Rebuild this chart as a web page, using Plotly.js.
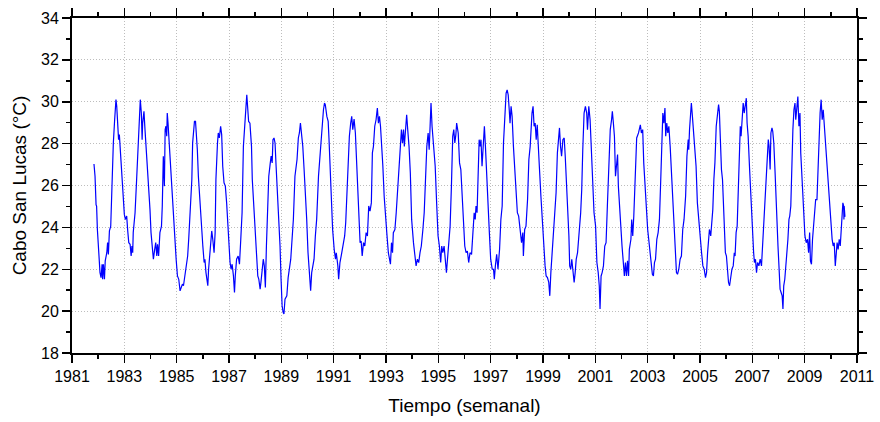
<!DOCTYPE html>
<html>
<head>
<meta charset="utf-8">
<script src="https://cdn.plot.ly/plotly-3.0.1.min.js"></script>
<style>html,body{margin:0;padding:0;background:#fff;}#chart{width:880px;height:422px;}</style>
</head>
<body>
<div id="chart"></div>
<script>
// Weekly SST at Cabo San Lucas (decimal years, °C)
const anios1982_1986 = [1981.84,1981.88,1981.92,1981.94,1981.97,1982.02,1982.07,1982.11,1982.15,1982.17,
1982.20,1982.24,1982.27,1982.33,1982.36,1982.39,1982.43,1982.48,1982.52,1982.58,
1982.63,1982.68,1982.71,1982.75,1982.78,1982.81,1982.86,1982.92,1982.96,1983.00,
1983.04,1983.09,1983.13,1983.17,1983.22,1983.26,1983.29,1983.32,1983.34,1983.41,
1983.47,1983.54,1983.57,1983.61,1983.65,1983.68,1983.70,1983.75,1983.79,1983.85,
1983.92,1983.98,1984.02,1984.06,1984.11,1984.16,1984.20,1984.24,1984.27,1984.31,
1984.36,1984.42,1984.45,1984.49,1984.53,1984.56,1984.59,1984.62,1984.64,1984.67,
1984.70,1984.72,1984.77,1984.82,1984.87,1984.92,1984.98,1985.03,1985.08,1985.13,
1985.17,1985.22,1985.26,1985.29,1985.33,1985.38,1985.42,1985.46,1985.51,1985.58,
1985.61,1985.64,1985.68,1985.72,1985.77,1985.79,1985.83,1985.89,1985.94,1986.00,
1986.05,1986.08,1986.12,1986.16,1986.19,1986.22,1986.26];
const temp1982_1986 = [27.03,26.44,25.08,25.02,23.90,22.56,21.84,21.60,22.24,21.52,
22.24,21.52,22.40,22.79,23.27,22.71,23.83,24.06,25.97,28.03,
29.14,30.10,29.78,28.59,28.19,28.43,27.40,25.97,25.49,24.62,
24.38,24.54,23.83,23.27,23.19,22.63,23.11,22.79,23.75,24.70,
26.29,28.67,29.62,30.10,29.46,28.19,28.98,29.54,28.67,27.56,
26.29,24.86,23.75,23.11,22.48,22.95,23.27,22.63,23.19,22.63,
23.75,24.06,25.02,27.40,25.97,28.67,28.83,28.35,29.46,28.98,
28.35,27.87,26.44,25.49,24.38,23.43,22.48,21.68,21.52,20.97,
21.13,21.29,21.21,21.52,21.68,22.16,22.63,23.43,24.70,26.29,
28.03,28.51,29.06,29.06,28.19,27.71,26.44,25.02,24.06,23.11,
22.32,22.48,21.84,21.52,21.21,22.00,22.79];

const anios1986_1991 = [1986.34,1986.38,1986.43,1986.47,1986.50,1986.56,1986.59,1986.63,1986.68,1986.72,
1986.76,1986.81,1986.86,1986.91,1986.95,1986.99,1987.04,1987.08,1987.12,1987.17,
1987.21,1987.24,1987.29,1987.35,1987.40,1987.45,1987.50,1987.55,1987.60,1987.65,
1987.68,1987.72,1987.75,1987.80,1987.86,1987.89,1987.93,1987.99,1988.06,1988.10,
1988.14,1988.19,1988.22,1988.26,1988.31,1988.35,1988.39,1988.43,1988.47,1988.52,
1988.57,1988.61,1988.65,1988.68,1988.72,1988.76,1988.80,1988.85,1988.90,1988.95,
1988.99,1989.03,1989.07,1989.10,1989.14,1989.21,1989.26,1989.31,1989.36,1989.41,
1989.46,1989.52,1989.56,1989.60,1989.65,1989.69,1989.73,1989.77,1989.82,1989.87,
1989.92,1989.97,1990.02,1990.07,1990.12,1990.16,1990.20,1990.25,1990.30,1990.35,
1990.42,1990.48,1990.54,1990.61,1990.65,1990.68,1990.74,1990.79,1990.82,1990.86,
1990.91,1990.96,1991.02,1991.07,1991.10,1991.16,1991.19,1991.24,1991.31];
const temp1986_1991 = [23.83,23.43,22.79,23.75,26.29,28.03,28.51,28.27,28.83,28.43,
26.92,26.13,25.97,25.17,24.06,23.11,22.32,22.00,22.24,21.68,
20.89,21.68,22.48,22.63,22.24,23.43,24.70,27.87,29.14,29.78,
30.33,29.62,29.06,28.98,27.87,26.29,25.33,23.90,22.63,21.68,
21.52,21.05,21.37,21.84,22.48,22.16,21.13,23.11,24.38,26.44,
27.00,27.40,27.08,28.19,28.27,28.03,26.92,25.81,24.38,23.11,
21.52,20.25,19.94,19.86,20.57,20.73,21.60,22.00,22.48,23.43,
24.38,26.44,26.76,27.24,28.27,28.51,28.98,28.51,27.87,26.76,
25.81,24.38,22.79,21.84,20.97,21.84,22.16,22.48,23.59,24.38,
26.44,27.56,28.67,29.62,29.94,29.86,29.30,29.06,28.27,27.08,
25.17,23.90,22.95,22.48,22.79,22.16,21.52,22.32,22.79];

const anios1991_1996 = [1991.37,1991.42,1991.46,1991.50,1991.55,1991.60,1991.65,1991.69,1991.73,1991.78,
1991.83,1991.88,1991.93,1991.97,1992.01,1992.05,1992.09,1992.14,1992.19,1992.24,
1992.29,1992.34,1992.39,1992.44,1992.48,1992.52,1992.57,1992.62,1992.67,1992.71,
1992.75,1992.79,1992.84,1992.88,1992.93,1992.98,1993.03,1993.09,1993.13,1993.17,
1993.21,1993.25,1993.28,1993.34,1993.39,1993.44,1993.49,1993.54,1993.59,1993.63,
1993.67,1993.70,1993.74,1993.79,1993.83,1993.88,1993.93,1993.98,1994.05,1994.11,
1994.15,1994.20,1994.25,1994.30,1994.35,1994.41,1994.46,1994.51,1994.56,1994.61,
1994.65,1994.69,1994.72,1994.76,1994.81,1994.88,1994.94,1994.99,1995.04,1995.09,
1995.13,1995.17,1995.22,1995.27,1995.31,1995.35,1995.39,1995.45,1995.50,1995.55,
1995.59,1995.63,1995.67,1995.70,1995.76,1995.81,1995.86,1995.91,1995.96,1996.01,
1996.06,1996.11,1996.16];
const temp1991_1996 = [23.27,23.59,24.22,25.65,27.08,28.35,28.98,29.30,28.67,29.17,
28.51,26.92,25.02,24.06,23.27,23.35,22.63,23.27,23.11,23.75,
23.59,25.02,24.78,25.17,27.56,27.87,28.83,29.14,29.70,28.98,
29.30,28.83,27.87,26.92,25.49,24.38,23.75,22.79,22.48,22.24,
23.27,22.79,23.75,23.90,24.70,25.81,26.76,27.56,28.67,28.03,
28.67,27.87,28.83,29.38,28.67,27.87,26.60,24.38,23.27,22.48,
22.16,22.48,22.32,22.79,23.11,23.90,24.70,26.29,27.87,28.51,
27.71,28.98,29.94,28.83,27.87,26.92,25.02,23.59,23.11,22.32,
23.11,22.79,23.11,22.08,21.84,22.48,23.11,24.06,25.97,28.35,
28.67,28.03,28.43,28.98,28.51,27.08,26.76,25.65,24.06,23.11,
22.79,22.87,22.32];

const anios1996_2001 = [1996.21,1996.27,1996.32,1996.37,1996.41,1996.44,1996.48,1996.52,1996.56,1996.60,
1996.63,1996.67,1996.72,1996.76,1996.80,1996.85,1996.90,1996.95,1997.00,1997.06,
1997.11,1997.14,1997.18,1997.23,1997.28,1997.34,1997.39,1997.44,1997.49,1997.54,
1997.59,1997.63,1997.67,1997.71,1997.74,1997.78,1997.82,1997.87,1997.92,1997.97,
1998.02,1998.07,1998.13,1998.18,1998.23,1998.25,1998.30,1998.35,1998.41,1998.46,
1998.51,1998.55,1998.58,1998.62,1998.66,1998.70,1998.74,1998.78,1998.81,1998.86,
1998.92,1998.97,1999.02,1999.08,1999.12,1999.17,1999.22,1999.26,1999.30,1999.35,
1999.40,1999.45,1999.50,1999.55,1999.59,1999.63,1999.67,1999.71,1999.76,1999.81,
1999.85,1999.88,1999.94,1999.99,2000.02,2000.06,2000.10,2000.14,2000.19,2000.23,
2000.27,2000.32,2000.37,2000.42,2000.44,2000.48,2000.52,2000.57,2000.62,2000.67,
2000.70,2000.75,2000.80,2000.85,2000.90,2000.95,2001.01,2001.06,2001.11,2001.15,
2001.18,2001.22,2001.26,2001.31];
const temp1996_2001 = [22.79,22.71,23.59,24.70,24.38,25.02,24.70,26.92,28.19,27.87,
28.19,26.92,28.35,28.83,27.87,26.29,25.02,23.75,22.48,22.00,
22.00,21.52,22.16,22.71,22.00,22.95,24.38,25.02,28.03,29.62,
30.41,30.57,30.33,29.62,28.98,29.78,29.30,27.87,26.60,25.81,
24.70,24.54,23.75,23.27,23.75,22.63,23.90,24.06,25.33,27.24,
27.87,28.98,29.46,29.78,28.83,28.98,28.19,28.90,28.35,26.92,
25.49,24.38,23.43,22.16,21.68,21.60,21.37,20.73,21.84,22.79,
23.75,24.54,25.65,27.56,28.35,28.75,27.87,27.40,28.19,28.27,
27.40,26.60,25.49,23.59,22.16,22.00,22.48,21.84,21.37,21.84,
22.48,22.79,23.43,24.38,24.70,25.81,27.71,29.46,29.78,29.46,
28.67,29.78,29.14,27.87,26.29,24.70,24.06,22.32,21.84,21.21,
20.10,21.68,21.84,22.16];

const anios2001_2006 = [2001.36,2001.41,2001.46,2001.51,2001.57,2001.62,2001.65,2001.69,2001.73,2001.77,
2001.81,2001.85,2001.88,2001.92,2001.97,2002.02,2002.08,2002.11,2002.15,2002.19,
2002.23,2002.27,2002.30,2002.36,2002.39,2002.43,2002.47,2002.52,2002.58,2002.65,
2002.69,2002.72,2002.76,2002.81,2002.85,2002.90,2002.97,2003.00,2003.04,2003.09,
2003.13,2003.18,2003.22,2003.26,2003.30,2003.35,2003.40,2003.45,2003.50,2003.55,
2003.58,2003.62,2003.66,2003.69,2003.73,2003.77,2003.81,2003.86,2003.91,2003.96,
2004.01,2004.06,2004.10,2004.14,2004.19,2004.24,2004.29,2004.34,2004.39,2004.45,
2004.50,2004.55,2004.57,2004.60,2004.64,2004.67,2004.71,2004.75,2004.80,2004.85,
2004.90,2004.96,2005.01,2005.06,2005.11,2005.16,2005.21,2005.25,2005.29,2005.32,
2005.36,2005.41,2005.45,2005.49,2005.53,2005.57,2005.62,2005.67,2005.71,2005.74,
2005.78,2005.82,2005.86,2005.90,2005.94,2005.97,2006.01,2006.05,2006.09,2006.13,
2006.17,2006.22];
const temp2001_2006 = [23.11,23.27,25.02,26.92,28.67,29.14,29.54,28.98,28.35,26.44,
27.24,27.48,25.97,25.02,24.06,23.11,22.16,21.68,22.32,21.68,
22.40,21.68,22.95,23.43,24.38,23.59,24.54,26.60,28.27,28.51,
28.67,28.90,28.51,28.67,27.08,25.81,24.06,23.90,23.43,22.79,
22.16,21.76,21.68,22.32,22.48,23.43,23.75,24.38,26.29,28.19,
29.46,28.98,29.70,28.35,28.98,28.51,28.83,27.87,26.60,25.02,
23.75,22.48,21.84,21.76,22.00,22.48,22.63,23.90,24.38,25.49,
27.40,28.19,27.71,28.67,29.46,29.94,29.30,28.67,28.03,26.92,
25.17,24.22,23.27,22.79,22.16,22.00,21.60,21.84,22.79,23.27,
23.90,23.59,24.22,24.86,26.29,27.08,28.83,29.62,29.86,29.54,
27.40,26.76,26.29,25.02,24.06,22.79,22.63,21.84,21.37,21.21,
21.52,22.00];

const anios2006_2010 = [2006.27,2006.31,2006.34,2006.38,2006.42,2006.46,2006.50,2006.54,2006.57,2006.61,
2006.65,2006.69,2006.73,2006.77,2006.80,2006.84,2006.89,2006.94,2006.99,2007.05,
2007.08,2007.12,2007.16,2007.20,2007.25,2007.30,2007.35,2007.40,2007.45,2007.50,
2007.56,2007.61,2007.64,2007.68,2007.71,2007.75,2007.78,2007.82,2007.87,2007.92,
2007.98,2008.03,2008.06,2008.10,2008.14,2008.17,2008.20,2008.24,2008.28,2008.32,
2008.36,2008.40,2008.43,2008.47,2008.51,2008.55,2008.59,2008.63,2008.66,2008.70,
2008.74,2008.78,2008.82,2008.85,2008.91,2008.96,2009.01,2009.06,2009.11,2009.15,
2009.19,2009.22,2009.26,2009.30,2009.34,2009.38,2009.42,2009.47,2009.52,2009.56,
2009.59,2009.63,2009.67,2009.71,2009.75,2009.79,2009.82,2009.87,2009.93,2009.98,
2010.01,2010.05,2010.09,2010.13,2010.17,2010.21,2010.24,2010.28,2010.32,2010.36,
2010.40,2010.43,2010.46,2010.49,2010.50,2010.51,2010.54];
const temp2006_2010 = [22.16,22.79,22.63,23.75,24.06,25.81,27.87,28.83,28.35,29.46,
29.94,29.46,29.86,30.17,28.98,28.35,26.92,25.49,24.06,22.79,
22.32,22.48,21.84,22.32,22.16,22.48,22.16,23.43,24.38,25.97,
27.08,28.19,27.87,26.76,28.51,28.75,28.59,28.03,26.60,24.70,
23.11,21.84,21.05,20.89,20.73,20.10,21.21,21.52,22.16,22.48,
23.43,24.38,24.54,25.02,27.40,28.67,29.62,29.94,29.14,29.78,
30.25,28.83,29.46,27.56,25.97,24.22,23.59,23.27,23.43,22.79,
23.75,22.40,22.24,23.43,24.06,24.38,25.33,25.33,27.40,29.14,
29.46,30.10,29.14,29.62,28.83,28.35,27.87,26.44,25.81,24.70,
24.06,23.43,23.11,23.27,22.16,23.11,23.27,22.95,23.43,23.11,
23.90,24.38,25.17,25.02,24.38,25.02,24.50];

const xTickVals = [1981,1983,1985,1987,1989,1991,1993,1995,1997,1999,2001,2003,2005,2007,2009,2011];
const yTickVals = [18,20,22,24,26,28,30,32,34];

const periodosX = [anios1982_1986, anios1986_1991, anios1991_1996, anios1996_2001, anios2001_2006, anios2006_2010];
const periodosY = [temp1982_1986, temp1986_1991, temp1991_1996, temp1996_2001, temp2001_2006, temp2006_2010];
let xs = [], ys = [];
periodosX.forEach((px, i) => {
  const py = periodosY[i];
  const n = Math.min(px.length, py.length);
  for (let k = 0; k < n; k++) { xs.push(px[k]); ys.push(py[k]); }
});

const trace = {
  x: xs, y: ys, type: 'scatter', mode: 'lines',
  line: {color: '#0000ff', width: 1.2},
  hoverinfo: 'x+y'
};

const axisCommon = {
  showline: true, linewidth: 2, linecolor: '#000', mirror: 'allticks',
  ticks: 'outside', ticklen: 8, tickwidth: 1.5, tickcolor: '#000',
  showgrid: true, gridcolor: '#bdbdbd', griddash: '1px,2px', gridwidth: 1,
  zeroline: false,
  tickfont: {size: 16, color: '#000'}
};

const layout = {
  width: 880, height: 422,
  margin: {l: 72, r: 23, t: 18, b: 69},
  paper_bgcolor: '#fff', plot_bgcolor: '#fff',
  showlegend: false,
  font: {family: '"Liberation Sans", Arial, sans-serif', size: 16, color: '#000'},
  xaxis: Object.assign({}, axisCommon, {
    range: [1981, 2011], tickmode: 'array', tickvals: xTickVals,
    ticktext: xTickVals.map(String),
    minor: {dtick: 1, tick0: 1981, ticks: 'outside', ticklen: 4, tickwidth: 1.5, tickcolor: '#000', showgrid: false},
    title: {text: 'Tiempo (semanal)', font: {size: 19, color: '#000'}, standoff: 14}
  }),
  yaxis: Object.assign({}, axisCommon, {
    range: [18, 34], tickmode: 'array', tickvals: yTickVals,
    ticktext: yTickVals.map(String),
    minor: {dtick: 1, tick0: 18, ticks: 'outside', ticklen: 4, tickwidth: 1.5, tickcolor: '#000', showgrid: false},
    title: {text: 'Cabo San Lucas (°C)', font: {size: 19, color: '#000'}, standoff: 9}
  })
};

Plotly.newPlot('chart', [trace], layout, {displayModeBar: false, staticPlot: true});
</script>
</body>
</html>
